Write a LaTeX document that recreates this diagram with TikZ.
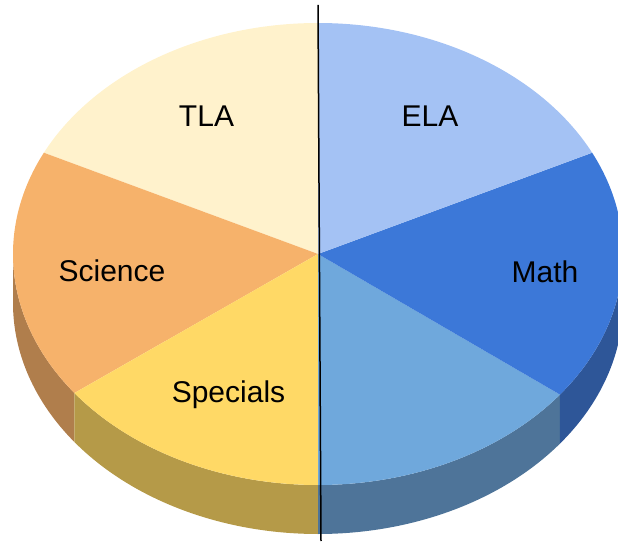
\documentclass[tikz,border=0pt]{standalone}
\usepackage{fontspec}
\setmainfont{Liberation Sans}
\usepackage{tikz}
\definecolor{tlaTop}{RGB}{255,242,204}
\definecolor{elaTop}{RGB}{164,194,244}
\definecolor{mathTop}{RGB}{60,120,216}
\definecolor{mathSide}{RGB}{46,86,152}
\definecolor{blueTop}{RGB}{111,168,220}
\definecolor{blueSide}{RGB}{78,116,153}
\definecolor{specialsTop}{RGB}{255,217,102}
\definecolor{specialsSide}{RGB}{181,154,72}
\definecolor{scienceTop}{RGB}{246,178,107}
\definecolor{scienceSide}{RGB}{176,126,76}
\newcommand{\pieSlice}[3]{%%
  %% The top face of one slice.
  \fill[#3] (O) -- ++(#1:\rx pt and \ry pt)
    arc[start angle=#1,end angle=#2,x radius=\rx,y radius=\ry] -- cycle;
}
\newcommand{\pieSide}[3]{%%
  %% The rim of one slice.
  \fill[#3] (O) ++(#1:\rx pt and \ry pt)
    arc[start angle=#1,end angle=#2,x radius=\rx,y radius=\ry]
    -- ++(0,-\depth)
    arc[start angle=#2,end angle=#1,x radius=\rx,y radius=\ry] -- cycle;
}

\begin{document}
\begin{tikzpicture}[%%
  x=1pt,y=1pt,%%
  labelStyle/.style={anchor=base,inner sep=0pt,font=\fontsize{30}{36}\selectfont},%%
  lineStyle/.style={line width=1.5pt,black}%%
]
\useasboundingbox (0,0) rectangle (618,541);
%%
%% Size of the pie.
\pgfmathsetmacro{\rx}{305}
\pgfmathsetmacro{\ry}{231}
\pgfmathsetmacro{\depth}{49}
\coordinate (O) at (318,287);
%%
%% The rim, left to right.
\pieSide{180}{217}{scienceSide}
\pieSide{217}{270}{specialsSide}
\pieSide{270}{322.5}{blueSide}
\pieSide{322.5}{360}{mathSide}
%%
%% The top faces.
\pieSlice{90}{154}{tlaTop}
\pieSlice{154}{217}{scienceTop}
\pieSlice{217}{270}{specialsTop}
\pieSlice{270}{322.5}{blueTop}
\pieSlice{-37.5}{26}{mathTop}
\pieSlice{26}{90}{elaTop}
%%
%% The labels.
\node[labelStyle] (tla) at (206.5,414) {TLA};
\node[labelStyle] (ela) at (430,414) {ELA};
\node[labelStyle] (science) at (112,259) {Science};
\node[labelStyle] (math) at (545,258) {Math};
\node[labelStyle] (specials) at (228.5,139) {Specials};
%%
%% The dividing line.
\coordinate (lineTop) at (318,536);
\coordinate (lineBot) at (321,0);
\draw[lineStyle] (lineTop) -- (lineBot);
\end{tikzpicture}
\end{document}
